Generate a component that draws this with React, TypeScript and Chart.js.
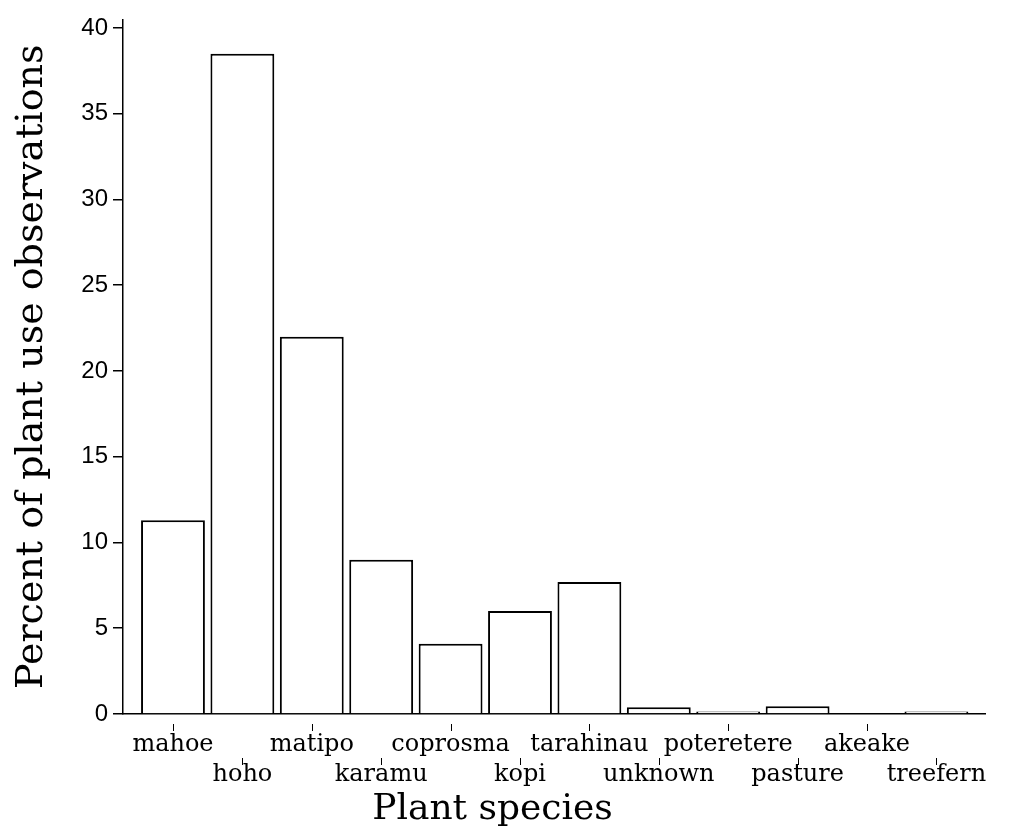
import React, { useEffect, useRef } from "react";
import { Chart, registerables } from "chart.js";

Chart.register(...registerables);

const species = [
  "mahoe", "hoho", "matipo", "karamu", "coprosma", "kopi",
  "tarahinau", "unknown", "poteretere", "pasture", "akeake", "treefern",
];
const percents = [11.3, 38.5, 22.0, 9.0, 4.1, 6.0, 7.7, 0.4, 0.15, 0.45, 0.05, 0.15];
const yTicks = [0, 5, 10, 15, 20, 25, 30, 35, 40];

const labelMarks = {
  id: "labelMarks",
  afterDraw(chart: any) {
    const xs = chart.scales.x;
    const ctx = chart.ctx;
    ctx.save();
    ctx.strokeStyle = "#000";
    ctx.lineWidth = 1;
    ctx.beginPath();
    species.forEach((_, i) => {
      const x = Math.round(xs.getPixelForValue(i)) + 0.5;
      const y0 = i % 2 === 0 ? xs.top + 10 : xs.top + 44;
      ctx.moveTo(x, y0);
      ctx.lineTo(x, y0 + 7);
    });
    ctx.stroke();
    ctx.restore();
  },
};

export default function App() {
  const ref = useRef<HTMLCanvasElement>(null);
  useEffect(() => {
    if (!ref.current) return;
    const chart = new Chart(ref.current, {
      type: "bar",
      data: {
        datasets: [
          {
            data: percents.map((v, i) => ({ x: i, y: v })),
            backgroundColor: "#ffffff",
            borderColor: "#000000",
            borderWidth: 2,
            barPercentage: 0.92,
            categoryPercentage: 1,
          },
        ],
      },
      options: {
        animation: false,
        responsive: false,
        layout: { padding: { top: 18, right: 30, left: 0, bottom: 0 } },
        plugins: {
          legend: { display: false },
          tooltip: { enabled: false },
          title: {
            display: true,
            text: "Plant species",
            position: "bottom",
            color: "#000",
            font: { family: "DejaVu Serif", size: 36, weight: "normal", lineHeight: 1 },
            padding: 0,
          },
        },
        scales: {
          x: {
            type: "linear",
            offset: false,
            min: -0.72,
            max: 11.7,
            grid: { display: false, drawTicks: false, tickLength: 0, offset: false },
            border: { display: true, color: "#000", width: 1.5 },
            afterBuildTicks: (scale: any) => {
              scale.ticks = species.map((_, i) => ({ value: i }));
            },
            afterFit: (scale: any) => {
              scale.height = 78;
            },
            ticks: {
              autoSkip: false,
              maxRotation: 0,
              minRotation: 0,
              padding: 16,
              color: "#000",
              font: { family: "DejaVu Serif", size: 24, lineHeight: 1.25 },
              callback: (value: any) => {
                const i = Math.round(Number(value));
                if (Math.abs(Number(value) - i) > 1e-6 || i < 0 || i >= species.length) return "";
                return i % 2 === 0 ? [species[i], ""] : ["", species[i]];
              },
            },
          },
          y: {
            min: 0,
            max: 40.5,
            afterBuildTicks: (scale: any) => {
              scale.ticks = yTicks.map((v) => ({ value: v }));
            },
            afterFit: (scale: any) => {
              scale.width = 123;
            },
            grid: { drawOnChartArea: false, drawTicks: true, tickLength: 10, color: "#000", lineWidth: 1.5 },
            border: { display: true, color: "#000", width: 1.5 },
            ticks: {
              padding: 5,
              color: "#000",
              font: { family: "Liberation Sans", size: 24 },
            },
            title: {
              display: true,
              text: "Percent of plant use observations",
              color: "#000",
              font: { family: "DejaVu Serif", size: 38, lineHeight: 1 },
              padding: { top: 13, bottom: 0 },
            },
          },
        },
      },
      plugins: [labelMarks],
    } as any);
    return () => chart.destroy();
  }, []);
  return (
    <div style={{ position: "absolute", left: 0, top: 0, width: 1015, height: 828, background: "#fff" }}>
      <canvas ref={ref} width={1015} height={828} />
    </div>
  );
}
